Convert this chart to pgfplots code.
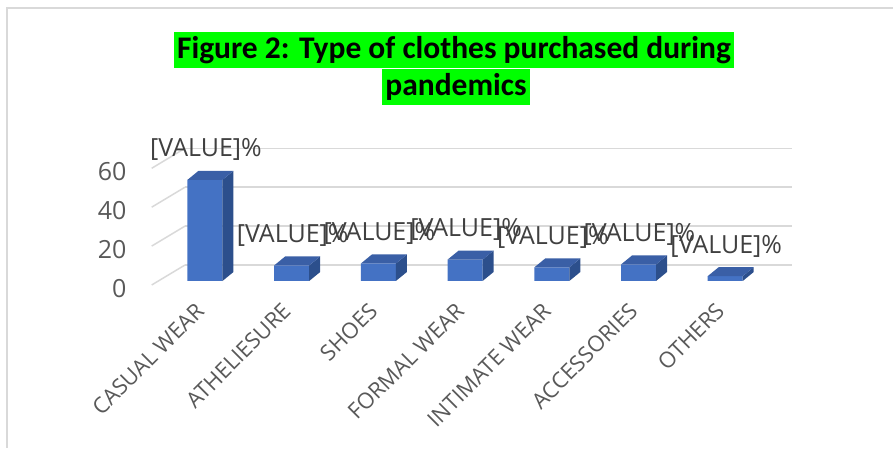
\documentclass[border=0pt]{standalone}
\usepackage{fontspec}
\setmainfont{Open Sans}
\newfontfamily\titlefont{Carlito}
\usepackage{pgfplots}
\pgfplotsset{compat=1.18}

\definecolor{barfront}{HTML}{4472C4}
\definecolor{bartop}{HTML}{3A5FA6}
\definecolor{barside}{HTML}{2C4F8C}
\definecolor{gridgray}{HTML}{D9D9D9}
\definecolor{labelgray}{HTML}{595959}
\definecolor{valgray}{HTML}{404040}
\definecolor{hl}{HTML}{00FF00}

\newdimen\barh
\newdimen\barb
% fake 3d faces, origin = top centre of the front face
\pgfdeclareplotmark{bartopface}{%
  \pgfpathmoveto{\pgfqpoint{-17.5bp}{0bp}}%
  \pgfpathlineto{\pgfqpoint{17.5bp}{0bp}}%
  \pgfpathlineto{\pgfqpoint{28.5bp}{9bp}}%
  \pgfpathlineto{\pgfqpoint{-6.5bp}{9bp}}%
  \pgfpathclose
  \pgfusepathqfill}
\pgfdeclareplotmark{barsideface}{%
  \pgfmathsetlength{\barh}{\ry*1.945bp}%
  \barb=9bp \advance\barb by -\barh
  \pgfpathmoveto{\pgfqpoint{17.5bp}{0bp}}%
  \pgfpathlineto{\pgfqpoint{28.5bp}{9bp}}%
  \pgfpathlineto{\pgfqpoint{28.5bp}{\barb}}%
  \pgfpathlineto{\pgfqpoint{17.5bp}{-\barh}}%
  \pgfpathclose
  \pgfusepathqfill}

\pgfplotstableread{
x  share
0  52
1  8
2  9
3  11
4  7
5  8.5
6  2.5
}\clothes

\begin{document}
\begin{tikzpicture}
\useasboundingbox (0,0) rectangle (893bp,458bp);
\draw[gridgray, line width=2bp] (7bp,10bp) -- (7bp,450bp) -- (893bp,450bp);

\node[fill=hl, inner xsep=3bp, inner ysep=0pt, text height=27bp, text depth=9bp,
  font=\titlefont\bfseries\fontsize{31.5bp}{38bp}\selectfont]
  at (454bp,408bp) {Figure 2: Type of clothes purchased during};
\node[fill=hl, inner xsep=3bp, inner ysep=0pt, text height=27bp, text depth=9bp,
  font=\titlefont\bfseries\fontsize{31.5bp}{38bp}\selectfont]
  at (456bp,371bp) {pandemics};

\begin{axis}[
  at={(161.6bp,177bp)}, anchor=south west,
  scale only axis, width=607bp, height=116.7bp,
  xmin=-0.5, xmax=6.5, ymin=0, ymax=60,
  clip=false,
  axis line style={draw=none},
  major tick length=0pt,
  xtick={0,...,6},
  xticklabels={CASUAL WEAR,ATHELIESURE,SHOES,FORMAL WEAR,INTIMATE WEAR,ACCESSORIES,OTHERS},
  ytick={0,20,40,60},
  /pgf/number format/assume math mode=true,
  yticklabel style={font=\fontsize{25bp}{30bp}\selectfont, text=labelgray,
    anchor=east, inner sep=0pt, xshift=-35bp, yshift=-7.5bp},
  xticklabel style={font=\fontsize{22bp}{26bp}\selectfont, text=labelgray,
    inner sep=0pt, yshift=-26bp, xshift=-5bp, rotate=45, anchor=east},
  ymajorgrids,
  major grid style={draw=gridgray, line width=1.5bp, xshift=23.4bp, yshift=16bp},
]
\pgfplotsinvokeforeach{0,20,40,60}{
  \draw[gridgray, line width=1.5bp] ([xshift=-9.9bp,yshift=-4bp]axis cs:-0.5,#1)
    -- ([xshift=23.4bp,yshift=16bp]axis cs:-0.5,#1);
}
\addplot[ybar, bar width=35bp, fill=barfront, draw=none] table[x=x, y=share] {\clothes};
\addplot[only marks, mark=barsideface, color=barside, fill=barside,
  visualization depends on=rawy \as \ry] table[x=x, y=share] {\clothes};
\addplot[only marks, mark=bartopface, color=bartop, fill=bartop,
  nodes near coords={[VALUE]\%},
  every node near coord/.append style={font=\fontsize{25bp}{30bp}\selectfont,
    text=valgray, anchor=center, yshift=30bp, xshift=1bp}]
  table[x=x, y=share] {\clothes};
\end{axis}
\end{tikzpicture}
\end{document}
